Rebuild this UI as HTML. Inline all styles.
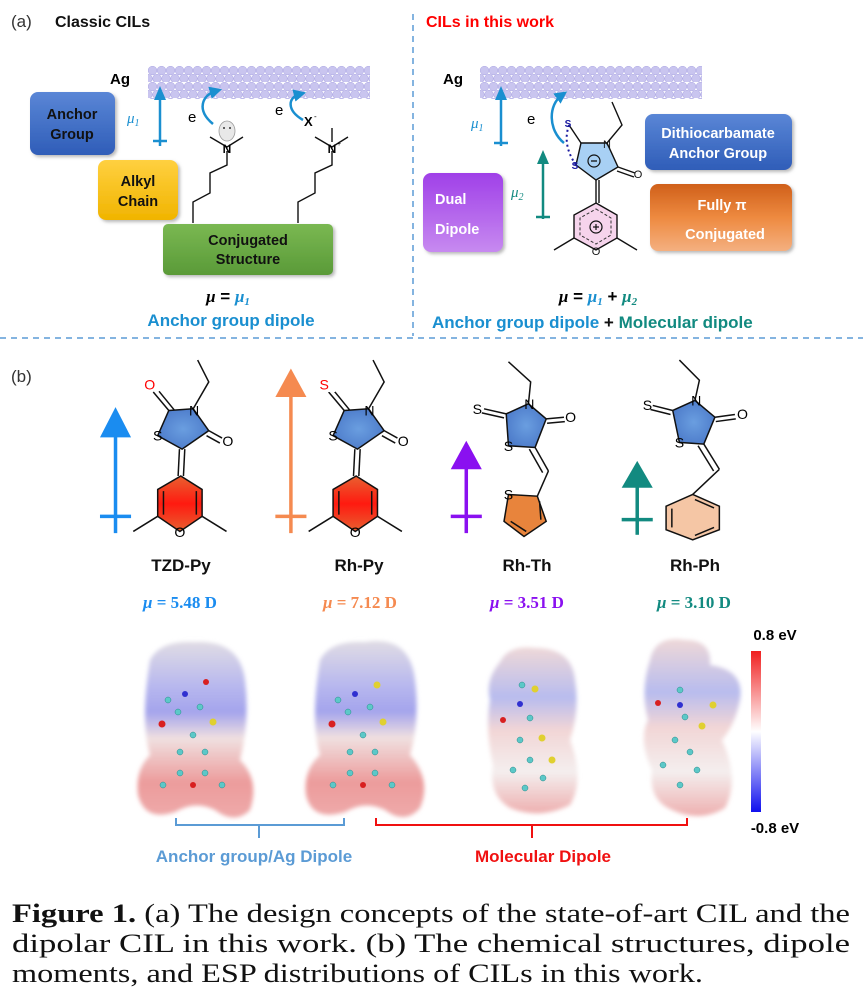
<!DOCTYPE html>
<html><head><meta charset="utf-8"><style>
html,body{margin:0;padding:0;background:#fff;}
svg{display:block;font-family:"Liberation Sans",sans-serif;}
.b{font-weight:bold;}
</style></head><body>
<svg width="863" height="999" viewBox="0 0 863 999" xmlns="http://www.w3.org/2000/svg">
<defs>
<pattern id="ag" x="148" y="66" width="9" height="16" patternUnits="userSpaceOnUse">
<circle cx="4.5" cy="4.5" r="4.3" fill="#c9c5ef" stroke="#b3aee6" stroke-width="0.6"/>
<circle cx="0" cy="12.5" r="4.3" fill="#c9c5ef" stroke="#b3aee6" stroke-width="0.6"/>
<circle cx="9" cy="12.5" r="4.3" fill="#c9c5ef" stroke="#b3aee6" stroke-width="0.6"/>
</pattern>
<pattern id="ag2" x="480" y="66" width="9" height="16" patternUnits="userSpaceOnUse">
<circle cx="4.5" cy="4.5" r="4.3" fill="#c9c5ef" stroke="#b3aee6" stroke-width="0.6"/>
<circle cx="0" cy="12.5" r="4.3" fill="#c9c5ef" stroke="#b3aee6" stroke-width="0.6"/>
<circle cx="9" cy="12.5" r="4.3" fill="#c9c5ef" stroke="#b3aee6" stroke-width="0.6"/>
</pattern>
<linearGradient id="gBlue" x1="0" y1="0" x2="0" y2="1"><stop offset="0" stop-color="#5a86d6"/><stop offset="1" stop-color="#2f5db8"/></linearGradient>
<linearGradient id="gYel" x1="0" y1="0" x2="0" y2="1"><stop offset="0" stop-color="#ffd040"/><stop offset="1" stop-color="#f0b400"/></linearGradient>
<linearGradient id="gGrn" x1="0" y1="0" x2="0" y2="1"><stop offset="0" stop-color="#7ab852"/><stop offset="1" stop-color="#5a9a38"/></linearGradient>
<linearGradient id="gPur" x1="0" y1="0" x2="0" y2="1"><stop offset="0" stop-color="#a040e8"/><stop offset="1" stop-color="#c78af0"/></linearGradient>
<linearGradient id="gOr" x1="0" y1="0" x2="0" y2="1"><stop offset="0" stop-color="#d0601a"/><stop offset="0.5" stop-color="#ee8a40"/><stop offset="1" stop-color="#f4b080"/></linearGradient>
<linearGradient id="pyr" x1="0" y1="0" x2="0" y2="1"><stop offset="0" stop-color="#e86030"/><stop offset="0.5" stop-color="#ff1a10"/><stop offset="1" stop-color="#e86030"/></linearGradient>
<radialGradient id="ring5" cx="0.5" cy="0.5" r="0.6"><stop offset="0" stop-color="#6a9ee0"/><stop offset="1" stop-color="#4a78c8"/></radialGradient>
<linearGradient id="esp" x1="0" y1="0" x2="0" y2="1"><stop offset="0" stop-color="#e0dce4"/><stop offset="0.25" stop-color="#b8b8ee"/><stop offset="0.4" stop-color="#a4a4ec"/><stop offset="0.55" stop-color="#f0e0e0"/><stop offset="0.8" stop-color="#ec9c9c"/><stop offset="1" stop-color="#eeaaaa"/></linearGradient>
<linearGradient id="esp2" x1="0" y1="0" x2="0" y2="1"><stop offset="0" stop-color="#eed8d8"/><stop offset="0.3" stop-color="#b8bcee"/><stop offset="0.5" stop-color="#f2d6d6"/><stop offset="0.75" stop-color="#f4eeee"/><stop offset="1" stop-color="#eeb0b0"/></linearGradient>
<linearGradient id="cbar" x1="0" y1="0" x2="0" y2="1"><stop offset="0" stop-color="#f02020"/><stop offset="0.5" stop-color="#ffffff"/><stop offset="1" stop-color="#1010ee"/></linearGradient>
<filter id="sh" x="-10%" y="-10%" width="130%" height="130%"><feDropShadow dx="2" dy="2" stdDeviation="1.5" flood-color="#888" flood-opacity="0.6"/></filter>
<filter id="bl"><feGaussianBlur stdDeviation="2"/></filter>
<marker id="ah" viewBox="0 0 10 10" refX="5" refY="5" markerWidth="5" markerHeight="5" orient="auto"><path d="M0,0 L10,5 L0,10 z" fill="#1a8fd0"/></marker>
</defs>

<line x1="413" y1="14" x2="413" y2="336" stroke="#5b9bd5" stroke-width="1.5" stroke-dasharray="6,5"/>
<line x1="0" y1="338" x2="863" y2="338" stroke="#5b9bd5" stroke-width="1.5" stroke-dasharray="6,5"/>

<text x="11" y="27" font-size="17" fill="#333">(a)</text>
<text x="55" y="27" font-size="16" class="b" fill="#111">Classic CILs</text>
<text x="110" y="84" font-size="15" class="b">Ag</text>
<rect x="148" y="66" width="222" height="33" fill="url(#ag)"/>
<rect x="30" y="92" width="85" height="63" rx="8" fill="url(#gBlue)" filter="url(#sh)"/>
<text x="72" y="119" font-size="14.5" class="b" text-anchor="middle" fill="#111">Anchor</text>
<text x="72" y="139" font-size="14.5" class="b" text-anchor="middle" fill="#111">Group</text>
<rect x="98" y="160" width="80" height="60" rx="8" fill="url(#gYel)" filter="url(#sh)"/>
<text x="138" y="186" font-size="14.5" class="b" text-anchor="middle" fill="#111">Alkyl</text>
<text x="138" y="206" font-size="14.5" class="b" text-anchor="middle" fill="#111">Chain</text>
<rect x="163" y="224" width="170" height="51" rx="5" fill="url(#gGrn)" filter="url(#sh)"/>
<text x="248" y="245" font-size="14.5" class="b" text-anchor="middle" fill="#111">Conjugated</text>
<text x="248" y="264" font-size="14.5" class="b" text-anchor="middle" fill="#111">Structure</text>
<line x1="160" y1="146" x2="160" y2="96" stroke="#1a8fd0" stroke-width="2.5"/>
<path d="M160,86 L154,100 L166,100 z" fill="#1a8fd0"/>
<line x1="153" y1="141" x2="167" y2="141" stroke="#1a8fd0" stroke-width="2.5"/>
<text x="127" y="123" font-size="15" font-style="italic" fill="#1a8fd0" font-family="Liberation Serif,serif">μ<tspan font-size="10" dy="3">1</tspan></text>
<g stroke="#111" stroke-width="1.4" fill="none">
<polyline points="210,137 227,147 243,137"/>
<polyline points="227,151 227,165 210,173 210,193 193,202 193,223"/>
<polyline points="315,137 332,147 348,137"/>
<line x1="332" y1="128" x2="332" y2="142"/>
<polyline points="332,151 332,165 315,173 315,193 298,202 298,223"/>
</g>
<ellipse cx="227" cy="131" rx="8" ry="10" fill="#e8e8e8" stroke="#999" stroke-width="0.8"/>
<circle cx="224" cy="128" r="1" fill="#333"/><circle cx="230" cy="128" r="1" fill="#333"/>
<text x="227" y="153" font-size="12" class="b" text-anchor="middle">N</text>
<text x="332" y="153" font-size="12" class="b" text-anchor="middle">N</text>
<text x="337" y="146" font-size="7">+</text>
<path d="M213,124 C196,110 202,95 216,91" stroke="#1a8fd0" stroke-width="2.5" fill="none" marker-end="url(#ah)"/>
<text x="188" y="122" font-size="15">e</text>
<path d="M303,120 C286,110 288,97 300,94" stroke="#1a8fd0" stroke-width="2.5" fill="none" marker-end="url(#ah)"/>
<text x="275" y="115" font-size="15">e</text>
<text x="304" y="126" font-size="13" class="b">X</text><text x="314" y="119" font-size="8">-</text>
<text x="228" y="302" font-size="17" text-anchor="middle" class="b"><tspan font-family="Liberation Serif,serif" font-style="italic">μ</tspan> = <tspan fill="#1a8fd0" font-family="Liberation Serif,serif" font-style="italic">μ<tspan font-size="11" dy="3">1</tspan></tspan></text>
<text x="231" y="326" font-size="17" class="b" text-anchor="middle" fill="#1a8fd0">Anchor group dipole</text>

<text x="426" y="27" font-size="16" class="b" fill="#f00">CILs in this work</text>
<text x="443" y="84" font-size="15" class="b">Ag</text>
<rect x="480" y="66" width="222" height="33" fill="url(#ag2)"/>
<line x1="501" y1="146" x2="501" y2="96" stroke="#1a8fd0" stroke-width="2.5"/>
<path d="M501,86 L495,100 L507,100 z" fill="#1a8fd0"/>
<line x1="494" y1="143" x2="508" y2="143" stroke="#1a8fd0" stroke-width="2.5"/>
<text x="471" y="128" font-size="15" font-style="italic" fill="#1a8fd0" font-family="Liberation Serif,serif">μ<tspan font-size="10" dy="3">1</tspan></text>
<line x1="543" y1="219" x2="543" y2="160" stroke="#128a80" stroke-width="2.5"/>
<path d="M543,150 L537,164 L549,164 z" fill="#128a80"/>
<line x1="536" y1="217" x2="550" y2="217" stroke="#128a80" stroke-width="2.5"/>
<text x="511" y="197" font-size="15" font-style="italic" fill="#128a80" font-family="Liberation Serif,serif">μ<tspan font-size="10" dy="3">2</tspan></text>
<rect x="423" y="173" width="80" height="79" rx="8" fill="url(#gPur)" filter="url(#sh)"/>
<text x="435" y="204" font-size="14.5" class="b" fill="#fff">Dual</text>
<text x="435" y="234" font-size="14.5" class="b" fill="#fff">Dipole</text>
<rect x="645" y="114" width="147" height="56" rx="8" fill="url(#gBlue)" filter="url(#sh)"/>
<text x="718" y="138" font-size="14.5" class="b" text-anchor="middle" fill="#fff">Dithiocarbamate</text>
<text x="718" y="158" font-size="14.5" class="b" text-anchor="middle" fill="#fff">Anchor Group</text>
<rect x="650" y="184" width="142" height="67" rx="8" fill="url(#gOr)" filter="url(#sh)"/>
<text x="722" y="210" font-size="14.5" class="b" text-anchor="middle" fill="#fff">Fully π</text>
<text x="725" y="239" font-size="14.5" class="b" text-anchor="middle" fill="#fff">Conjugated</text>
<polygon points="581,143 607,143 618,167 596,180 576,165" fill="#a8d0f4" stroke="#111" stroke-width="1.4"/>
<polygon points="596,203 617,215 617,238 596,250 574,238 574,215" fill="#f6d4ec" stroke="#111" stroke-width="1.4"/>
<polygon points="596,209 611,218 611,235 596,244 580,235 580,218" fill="none" stroke="#333" stroke-width="1" stroke-dasharray="3,2"/>
<g stroke="#111" stroke-width="1.4" fill="none">
<line x1="581" y1="143" x2="569" y2="125"/>
<line x1="618" y1="167" x2="635" y2="173"/><line x1="617" y1="171" x2="634" y2="177"/>
<polyline points="607,143 622,125 612,102"/>
<line x1="596" y1="180" x2="596" y2="203"/><line x1="599" y1="180" x2="599" y2="203"/>
<line x1="574" y1="238" x2="554" y2="250"/><line x1="617" y1="238" x2="637" y2="250"/>
</g>
<path d="M569,125 Q562,145 576,165" stroke="#1a1aa0" stroke-width="2" stroke-dasharray="2,3" fill="none"/>
<circle cx="594" cy="161" r="6" fill="none" stroke="#111" stroke-width="1.2"/><line x1="591" y1="161" x2="597" y2="161" stroke="#111" stroke-width="1.3"/>
<circle cx="596" cy="227" r="6" fill="none" stroke="#111" stroke-width="1.2"/><line x1="593" y1="227" x2="599" y2="227" stroke="#111" stroke-width="1.2"/><line x1="596" y1="224" x2="596" y2="230" stroke="#111" stroke-width="1.2"/>
<text x="568" y="127" font-size="10" class="b" fill="#1a1aa0" text-anchor="middle">S</text>
<text x="575" y="169" font-size="10" class="b" fill="#1a1aa0" text-anchor="middle">S</text>
<text x="607" y="148" font-size="11" text-anchor="middle" fill="#111">N</text>
<text x="638" y="178" font-size="11" text-anchor="middle" fill="#111">O</text>
<text x="596" y="255" font-size="11" text-anchor="middle" fill="#111">O</text>
<path d="M564,143 C548,130 548,105 562,95" stroke="#1a8fd0" stroke-width="2.5" fill="none" marker-end="url(#ah)"/>
<text x="527" y="124" font-size="15">e</text>
<text x="598" y="302" font-size="17" text-anchor="middle" class="b"><tspan font-family="Liberation Serif,serif" font-style="italic">μ</tspan> = <tspan fill="#1a8fd0" font-family="Liberation Serif,serif" font-style="italic">μ<tspan font-size="11" dy="3">1</tspan></tspan><tspan dy="-3"> + </tspan><tspan fill="#128a80" font-family="Liberation Serif,serif" font-style="italic">μ<tspan font-size="11" dy="3">2</tspan></tspan></text>
<text x="432" y="328" font-size="17" class="b" fill="#1a8fd0">Anchor group dipole <tspan fill="#111">+</tspan> <tspan fill="#128a80">Molecular dipole</tspan></text>

<text x="11" y="382" font-size="17" fill="#333">(b)</text>
<g transform="translate(80,350) scale(0.444,0.336)">
<g>
<line x1="80" y1="545" x2="80" y2="230" stroke="#1a8cf0" stroke-width="3.5" vector-effect="non-scaling-stroke"/>
<line x1="45" y1="495" x2="115" y2="495" stroke="#1a8cf0" stroke-width="3.5" vector-effect="non-scaling-stroke"/>
<line x1="475" y1="545" x2="475" y2="120" stroke="#f58a50" stroke-width="3.5" vector-effect="non-scaling-stroke"/>
<line x1="440" y1="495" x2="510" y2="495" stroke="#f58a50" stroke-width="3.5" vector-effect="non-scaling-stroke"/>
<line x1="870" y1="545" x2="870" y2="330" stroke="#8a10f0" stroke-width="3.5" vector-effect="non-scaling-stroke"/>
<line x1="835" y1="495" x2="905" y2="495" stroke="#8a10f0" stroke-width="3.5" vector-effect="non-scaling-stroke"/>
<line x1="1255" y1="550" x2="1255" y2="390" stroke="#128a80" stroke-width="3.5" vector-effect="non-scaling-stroke"/>
<line x1="1220" y1="505" x2="1290" y2="505" stroke="#128a80" stroke-width="3.5" vector-effect="non-scaling-stroke"/>
<path d="M80,170 L45,260 L115,260 z" fill="#1a8cf0"/>
<path d="M475,55 L440,140 L510,140 z" fill="#f58a50"/>
<path d="M870,270 L835,355 L905,355 z" fill="#8a10f0"/>
<path d="M1255,330 L1220,410 L1290,410 z" fill="#128a80"/>
</g>
<g id="py">
<polygon points="200,180 255,175 290,240 230,295 175,255" fill="url(#ring5)" stroke="#111" stroke-width="1.5" vector-effect="non-scaling-stroke"/>
<polygon points="227,375 275,415 275,495 225,540 175,495 175,415" fill="url(#pyr)" stroke="#111" stroke-width="1.5" vector-effect="non-scaling-stroke"/>
<g stroke="#111" stroke-width="1.5" fill="none">
<line x1="200" y1="180" x2="165" y2="125" vector-effect="non-scaling-stroke"/><line x1="212" y1="178" x2="178" y2="123" vector-effect="non-scaling-stroke"/>
<polyline points="255,175 290,95 265,30" vector-effect="non-scaling-stroke"/>
<line x1="290" y1="240" x2="320" y2="262" vector-effect="non-scaling-stroke"/><line x1="285" y1="255" x2="315" y2="277" vector-effect="non-scaling-stroke"/>
<line x1="224" y1="295" x2="221" y2="375" vector-effect="non-scaling-stroke"/><line x1="236" y1="295" x2="233" y2="375" vector-effect="non-scaling-stroke"/>
<line x1="175" y1="495" x2="120" y2="540" vector-effect="non-scaling-stroke"/><line x1="275" y1="495" x2="330" y2="540" vector-effect="non-scaling-stroke"/>
<line x1="188" y1="420" x2="188" y2="490" vector-effect="non-scaling-stroke"/><line x1="262" y1="420" x2="262" y2="490" vector-effect="non-scaling-stroke"/>
</g>
<text transform="translate(175,270) scale(0.756,1)" font-size="42" text-anchor="middle">S</text>
<text transform="translate(257,195) scale(0.756,1)" font-size="42" text-anchor="middle">N</text>
<text transform="translate(333,285) scale(0.756,1)" font-size="42" text-anchor="middle">O</text>
<text transform="translate(225,557) scale(0.756,1)" font-size="42" text-anchor="middle">O</text>
</g>
<text transform="translate(157,118) scale(0.756,1)" font-size="42" text-anchor="middle" fill="#f00">O</text>
<use href="#py" transform="translate(395,0)"/>
<rect x="535" y="80" width="40" height="45" fill="#fff"/>
<text transform="translate(550,118) scale(0.756,1)" font-size="42" text-anchor="middle" fill="#f00">S</text>

<polygon points="960,190 1010,160 1050,205 1025,290 965,285" fill="url(#ring5)" stroke="#111" stroke-width="1.5" vector-effect="non-scaling-stroke"/>
<polygon points="965,430 1030,435 1050,510 1000,555 955,510" fill="#e8843c" stroke="#111" stroke-width="1.5" vector-effect="non-scaling-stroke"/>
<g stroke="#111" stroke-width="1.5" fill="none">
<line x1="960" y1="190" x2="910" y2="175" vector-effect="non-scaling-stroke"/><line x1="955" y1="202" x2="905" y2="187" vector-effect="non-scaling-stroke"/>
<polyline points="1010,160 1015,95 965,35" vector-effect="non-scaling-stroke"/>
<line x1="1050" y1="205" x2="1090" y2="200" vector-effect="non-scaling-stroke"/><line x1="1052" y1="218" x2="1092" y2="213" vector-effect="non-scaling-stroke"/>
<line x1="1025" y1="290" x2="1055" y2="360" vector-effect="non-scaling-stroke"/><line x1="1012" y1="295" x2="1042" y2="365" vector-effect="non-scaling-stroke"/>
<line x1="1055" y1="360" x2="1030" y2="435" vector-effect="non-scaling-stroke"/>
<line x1="1035" y1="450" x2="1038" y2="505" vector-effect="non-scaling-stroke"/><line x1="970" y1="510" x2="1005" y2="540" vector-effect="non-scaling-stroke"/>
</g>
<text transform="translate(895,190) scale(0.756,1)" font-size="42" text-anchor="middle">S</text>
<text transform="translate(1012,175) scale(0.756,1)" font-size="42" text-anchor="middle">N</text>
<text transform="translate(1105,215) scale(0.756,1)" font-size="42" text-anchor="middle">O</text>
<text transform="translate(965,300) scale(0.756,1)" font-size="42" text-anchor="middle">S</text>
<text transform="translate(965,445) scale(0.756,1)" font-size="42" text-anchor="middle">S</text>

<polygon points="1335,180 1385,150 1430,200 1405,280 1350,275" fill="url(#ring5)" stroke="#111" stroke-width="1.5" vector-effect="non-scaling-stroke"/>
<polygon points="1380,430 1440,465 1440,535 1380,565 1320,535 1320,465" fill="#f5c6a5" stroke="#111" stroke-width="1.5" vector-effect="non-scaling-stroke"/>
<g stroke="#111" stroke-width="1.5" fill="none">
<line x1="1335" y1="180" x2="1290" y2="165" vector-effect="non-scaling-stroke"/><line x1="1330" y1="192" x2="1285" y2="177" vector-effect="non-scaling-stroke"/>
<polyline points="1385,150 1395,90 1350,30" vector-effect="non-scaling-stroke"/>
<line x1="1430" y1="200" x2="1475" y2="192" vector-effect="non-scaling-stroke"/><line x1="1432" y1="213" x2="1477" y2="205" vector-effect="non-scaling-stroke"/>
<line x1="1405" y1="280" x2="1440" y2="355" vector-effect="non-scaling-stroke"/><line x1="1392" y1="285" x2="1427" y2="360" vector-effect="non-scaling-stroke"/>
<line x1="1440" y1="355" x2="1380" y2="430" vector-effect="non-scaling-stroke"/>
<line x1="1333" y1="472" x2="1333" y2="528" vector-effect="non-scaling-stroke"/><line x1="1385" y1="445" x2="1428" y2="470" vector-effect="non-scaling-stroke"/><line x1="1385" y1="552" x2="1428" y2="528" vector-effect="non-scaling-stroke"/>
</g>
<text transform="translate(1278,178) scale(0.756,1)" font-size="42" text-anchor="middle">S</text>
<text transform="translate(1388,165) scale(0.756,1)" font-size="42" text-anchor="middle">N</text>
<text transform="translate(1492,205) scale(0.756,1)" font-size="42" text-anchor="middle">O</text>
<text transform="translate(1350,290) scale(0.756,1)" font-size="42" text-anchor="middle">S</text>
</g>

<g font-size="17" class="b" text-anchor="middle" fill="#111">
<text x="181" y="571">TZD-Py</text>
<text x="359" y="571">Rh-Py</text>
<text x="527" y="571">Rh-Th</text>
<text x="695" y="571">Rh-Ph</text>
</g>
<g font-size="17" font-weight="bold" text-anchor="middle" font-family="Liberation Serif,serif">
<text x="180" y="608" fill="#1a8cf0"><tspan font-style="italic">μ</tspan> = 5.48 D</text>
<text x="360" y="608" fill="#f58a50"><tspan font-style="italic">μ</tspan> = 7.12 D</text>
<text x="527" y="608" fill="#8a10f0"><tspan font-style="italic">μ</tspan> = 3.51 D</text>
<text x="694" y="608" fill="#128a80"><tspan font-style="italic">μ</tspan> = 3.10 D</text>
</g>

<g filter="url(#bl)">
<path d="M150,660 Q160,640 195,642 Q240,640 245,680 Q250,720 240,760 Q260,780 250,810 Q235,825 215,810 Q195,800 175,812 Q145,822 138,795 Q135,770 150,755 Q140,720 150,660 z" fill="url(#esp)"/>
<path d="M320,660 Q330,640 365,642 Q410,635 415,680 Q420,720 410,755 Q432,780 420,808 Q405,825 385,810 Q365,800 345,812 Q312,822 306,795 Q303,770 320,755 Q310,720 320,660 z" fill="url(#esp)"/>
<path d="M500,662 Q508,645 535,648 Q572,648 575,680 Q580,710 570,740 Q585,780 570,805 Q540,820 510,808 Q488,795 493,765 Q485,730 490,700 Q485,680 500,662 z" fill="url(#esp2)"/>
<path d="M650,660 Q655,635 685,640 Q712,640 710,665 Q745,670 740,700 Q735,725 722,740 Q740,780 725,808 Q700,823 672,810 Q648,800 652,770 Q638,740 648,720 Q640,690 650,660 z" fill="url(#esp2)"/>
</g>
<g fill="#5cc8c8" stroke="#2a8a8a" stroke-width="0.5">
<circle cx="178" cy="712" r="3"/><circle cx="200" cy="707" r="3"/><circle cx="193" cy="735" r="3"/><circle cx="180" cy="752" r="3"/><circle cx="205" cy="752" r="3"/><circle cx="180" cy="773" r="3"/><circle cx="205" cy="773" r="3"/><circle cx="163" cy="785" r="3"/><circle cx="222" cy="785" r="3"/><circle cx="168" cy="700" r="3"/>
<circle cx="348" cy="712" r="3"/><circle cx="370" cy="707" r="3"/><circle cx="363" cy="735" r="3"/><circle cx="350" cy="752" r="3"/><circle cx="375" cy="752" r="3"/><circle cx="350" cy="773" r="3"/><circle cx="375" cy="773" r="3"/><circle cx="333" cy="785" r="3"/><circle cx="392" cy="785" r="3"/><circle cx="338" cy="700" r="3"/>
<circle cx="522" cy="685" r="3"/><circle cx="530" cy="718" r="3"/><circle cx="520" cy="740" r="3"/><circle cx="513" cy="770" r="3"/><circle cx="525" cy="788" r="3"/><circle cx="543" cy="778" r="3"/><circle cx="530" cy="760" r="3"/>
<circle cx="680" cy="690" r="3"/><circle cx="685" cy="717" r="3"/><circle cx="675" cy="740" r="3"/><circle cx="663" cy="765" r="3"/><circle cx="680" cy="785" r="3"/><circle cx="697" cy="770" r="3"/><circle cx="690" cy="752" r="3"/>
</g>
<g fill="#d82020"><circle cx="162" cy="724" r="3.5"/><circle cx="193" cy="785" r="3"/><circle cx="332" cy="724" r="3.5"/><circle cx="363" cy="785" r="3"/><circle cx="503" cy="720" r="3"/><circle cx="658" cy="703" r="3"/><circle cx="206" cy="682" r="3"/></g>
<g fill="#e0d030"><circle cx="213" cy="722" r="3.5"/><circle cx="383" cy="722" r="3.5"/><circle cx="377" cy="685" r="3.5"/><circle cx="542" cy="738" r="3.5"/><circle cx="535" cy="689" r="3.5"/><circle cx="552" cy="760" r="3.5"/><circle cx="702" cy="726" r="3.5"/><circle cx="713" cy="705" r="3.5"/></g>
<g fill="#3030d0"><circle cx="185" cy="694" r="3"/><circle cx="355" cy="694" r="3"/><circle cx="520" cy="704" r="3"/><circle cx="680" cy="705" r="3"/></g>

<rect x="751" y="651" width="10" height="161" fill="url(#cbar)"/>
<text x="775" y="640" font-size="15" class="b" text-anchor="middle">0.8 eV</text>
<text x="775" y="833" font-size="15" class="b" text-anchor="middle">-0.8 eV</text>

<polyline points="176,818 176,825 344,825 344,818" fill="none" stroke="#5b9bd5" stroke-width="2"/>
<line x1="259" y1="825" x2="259" y2="838" stroke="#5b9bd5" stroke-width="2"/>
<polyline points="376,818 376,825 687,825 687,818" fill="none" stroke="#f01010" stroke-width="2"/>
<line x1="532" y1="825" x2="532" y2="838" stroke="#f01010" stroke-width="2"/>
<text x="254" y="862" font-size="17" class="b" text-anchor="middle" fill="#5b9bd5">Anchor group/Ag Dipole</text>
<text x="543" y="862" font-size="17" class="b" text-anchor="middle" fill="#f01010">Molecular Dipole</text>

<g font-family="Liberation Serif,serif" font-size="26" fill="#111">
<text x="12" y="922" textLength="838" lengthAdjust="spacingAndGlyphs"><tspan font-weight="bold">Figure 1.</tspan> (a) The design concepts of the state-of-art CIL and the</text>
<text x="12" y="952" textLength="838" lengthAdjust="spacingAndGlyphs">dipolar CIL in this work. (b) The chemical structures, dipole</text>
<text x="12" y="982" textLength="691" lengthAdjust="spacingAndGlyphs">moments, and ESP distributions of CILs in this work.</text>
</g>
</svg>
</body></html>
